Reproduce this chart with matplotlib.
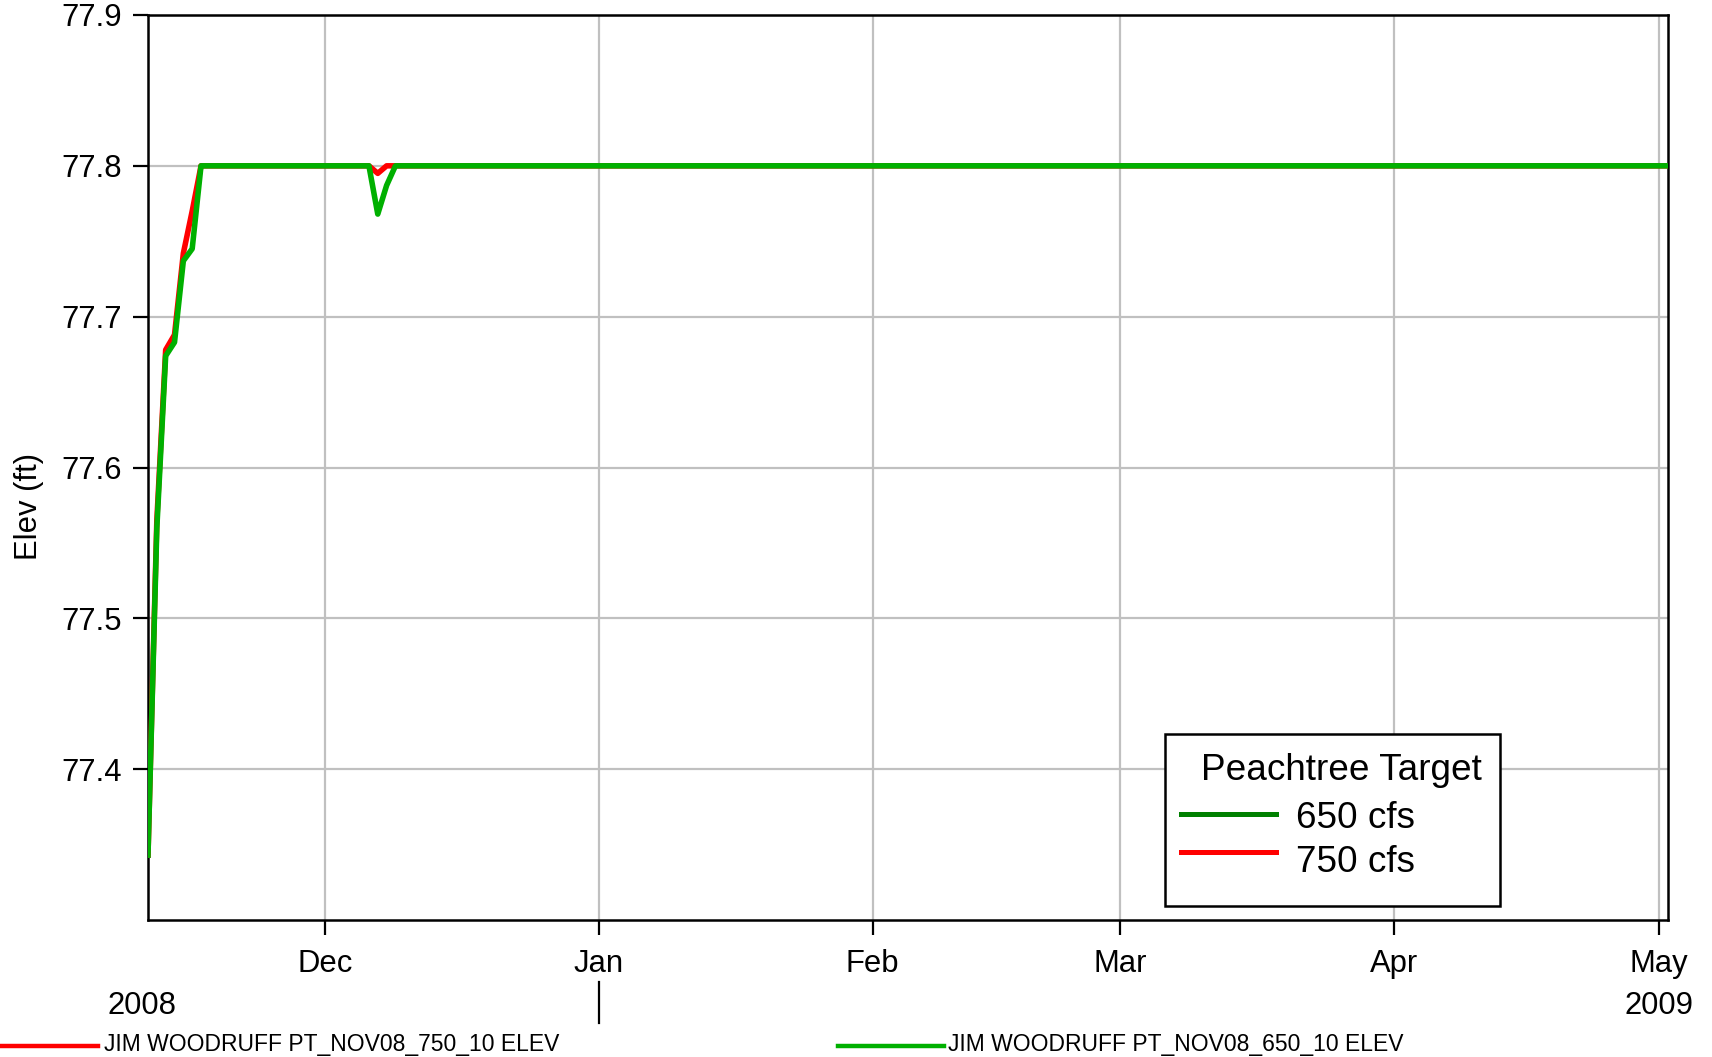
#!/usr/bin/env python3
"""Jim Woodruff pool elevation, Peachtree target 650 vs 750 cfs (Nov 2008 - May 2009)."""

import numpy as np
import pandas as pd
import matplotlib; matplotlib.use("Agg")
import matplotlib.pyplot as plt
import matplotlib.transforms as mtrans
from matplotlib.lines import Line2D
from matplotlib.patches import Rectangle

plt.rcParams["font.family"] = ["Liberation Sans", "DejaVu Sans"]

# ---- data (break points of the daily series) ----
green_dates = ["2008-11-11", "2008-11-12", "2008-11-13", "2008-11-14", "2008-11-15",
               "2008-11-16", "2008-11-17", "2008-12-06", "2008-12-07", "2008-12-08",
               "2008-12-09", "2009-05-02"]
green_elev = [77.343, 77.560, 77.674, 77.683, 77.737,
              77.745, 77.800, 77.800, 77.768, 77.787,
              77.800, 77.800]

red_dates = ["2008-11-11", "2008-11-12", "2008-11-13", "2008-11-14", "2008-11-15",
             "2008-11-16", "2008-11-17", "2008-12-06", "2008-12-07", "2008-12-08",
             "2009-05-02"]
red_elev = [77.343, 77.565, 77.678, 77.688, 77.742,
            77.770, 77.800, 77.800, 77.795, 77.800,
            77.800]

month_ticks = ["2008-12-01", "2009-01-01", "2009-02-01", "2009-03-01", "2009-04-01", "2009-05-01"]
month_labels = ["Dec", "Jan", "Feb", "Mar", "Apr", "May"]
y_ticks = [77.4, 77.5, 77.6, 77.7, 77.8, 77.9]
x_range = ["2008-11-11", "2009-05-02"]
y_range = [77.3, 77.9]
year_labels = [("2008", "2008-11-11", -6), ("2009", "2009-05-01", 0)]   # label, date, px nudge
year_break = "2009-01-01"

series_names = ["JIM WOODRUFF PT_NOV08_750_10 ELEV", "JIM WOODRUFF PT_NOV08_650_10 ELEV"]
legend_title = "Peachtree Target"
legend_labels = ["650 cfs", "750 cfs"]

RED = "#FF0000"
GREEN = "#00B000"
DARK_GREEN = "#008000"
GRID = "#C0C0C0"
FS = 22.3
LEG_FS = 26.6

W, H = 1712, 1057
fig = plt.figure(figsize=(W / 100, H / 100), dpi=100)
ax = fig.add_axes([148 / W, 1 - 920 / H, 1520 / W, 905 / H])


def fx(x):
    return x / W


def fy(y):
    # pixel row measured from the top -> figure fraction
    return 1 - y / H


ax.plot(pd.to_datetime(red_dates), red_elev, color=RED, lw=4.0, solid_joinstyle="round", zorder=3)
ax.plot(pd.to_datetime(green_dates), green_elev, color=GREEN, lw=4.0, solid_joinstyle="round", zorder=4)

ax.set_xlim(pd.to_datetime(x_range[0]), pd.to_datetime(x_range[1]))
ax.set_ylim(*y_range)
ax.set_xticks(pd.to_datetime(month_ticks))
ax.set_xticklabels(month_labels)
ax.set_yticks(y_ticks)
ax.set_yticklabels([f"{v:.1f}" for v in y_ticks])

ax.grid(True, color=GRID, lw=1.6, zorder=0)
ax.set_axisbelow(True)
for sp in ax.spines.values():
    sp.set_linewidth(1.8)
    sp.set_color("black")
ax.tick_params(axis="both", direction="out", length=11, width=1.6, labelsize=FS, colors="black")
ax.tick_params(axis="x", pad=10)
ax.tick_params(axis="y", pad=8)

ax.set_ylabel("Elev (ft)", fontsize=FS)
ax.yaxis.set_label_coords(-0.0685, 0.457)

# year labels and year divider under the month ticks
trans = mtrans.blended_transform_factory(ax.transData, ax.transAxes)
for label, d, dx in year_labels:
    t = mtrans.offset_copy(trans, fig=fig, x=dx, y=-3, units="dots")
    ax.text(pd.to_datetime(d), -0.092, label, transform=t, ha="center", va="center",
            fontsize=FS, clip_on=False)
yb = pd.to_datetime(year_break)
ax.plot([yb, yb], [-0.069, -0.114], transform=trans, color="black", lw=1.6, clip_on=False)

# boxed key inside the plot area (drawn by hand to match the original layout)
fig.add_artist(Rectangle((fx(1165), fy(906)), fx(335), 172 / H, transform=fig.transFigure,
                         facecolor="white", edgecolor="black", lw=1.8, zorder=5))
fig.text(fx(1201), fy(780), legend_title, fontsize=LEG_FS, ha="left", va="baseline", zorder=6)
for col, lab, yl, yt in [(DARK_GREEN, legend_labels[0], 814, 828),
                         (RED, legend_labels[1], 852, 872)]:
    fig.add_artist(Line2D([fx(1181), fx(1276)], [fy(yl)] * 2, color=col, lw=3.6,
                          transform=fig.transFigure, zorder=6))
    fig.text(fx(1296), fy(yt), lab, fontsize=LEG_FS, ha="left", va="baseline", zorder=6)

# series key along the bottom of the figure
fig.add_artist(Line2D([0, fx(98)], [fy(1046)] * 2, color=RED, lw=3.2, transform=fig.transFigure))
fig.text(fx(104), fy(1045), series_names[0], fontsize=16.5, va="center", ha="left")
fig.add_artist(Line2D([fx(838), fx(944)], [fy(1046)] * 2, color=GREEN, lw=3.2, transform=fig.transFigure))
fig.text(fx(948), fy(1045), series_names[1], fontsize=16.5, va="center", ha="left")

fig.savefig("out.png", dpi=100)
